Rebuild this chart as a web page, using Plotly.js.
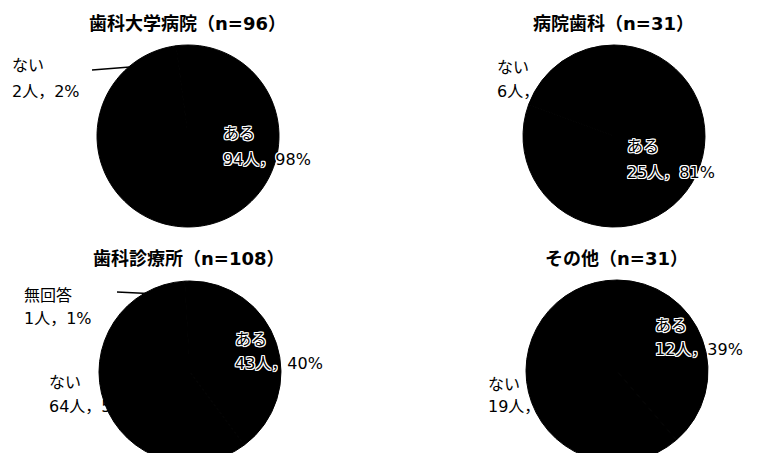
<!DOCTYPE html>
<html>
<head>
<meta charset="utf-8">
<script src="https://cdn.plot.ly/plotly-3.0.1.min.js"></script>
<style>
  html, body { margin: 0; padding: 0; background: #fff; overflow: hidden; }
  #chart { width: 761px; height: 470px; }
</style>
</head>
<body>
<div id="chart"></div>
<script>
// Respondent groups and answer categories
const groups = ['歯科大学病院', '病院歯科', '歯科診療所', 'その他'];
const answerLabels = ['ある', 'ない', '無回答'];

// Counts per group (ある, ない, 無回答)
const yesCounts = [94, 25, 43, 12];
const noCounts = [2, 6, 64, 19];
const noAnswerCounts = [0, 0, 1, 0];

const W = 761, H = 470;
const FONT = '"DejaVu Sans", "Noto Sans CJK JP", sans-serif';
const R = 91;

// Pie centre for each group in pixels
const centers = [[188, 136], [614, 136], [190, 372], [617, 371]];

// Label anchor points [left x, first line y, second line y] per group and category
const labelPos = [
  { 'ある': [221, 133, 159], 'ない': [10, 66, 91] },
  { 'ある': [625, 147, 173], 'ない': [495, 67, 91] },
  { 'ある': [233, 339, 363], 'ない': [47, 382, 406], '無回答': [22, 295, 318] },
  { 'ある': [653, 325, 349], 'ない': [486, 384, 406] }
];
const titleY = [24, 24, 258, 258];
const titleX = [187, 613, 188, 616];

const px = x => x / W;
const py = y => 1 - y / H;

const traces = [];
const annotations = [];
const white = '1px 0 0 #fff, -1px 0 0 #fff, 0 1px 0 #fff, 0 -1px 0 #fff, 1px 1px 0 #fff, -1px -1px 0 #fff, 1px -1px 0 #fff, -1px 1px 0 #fff';

groups.forEach((g, i) => {
  const vals = [yesCounts[i], noCounts[i], noAnswerCounts[i]];
  const total = vals.reduce((a, b) => a + b, 0);
  const [cx, cy] = centers[i];

  traces.push({
    type: 'pie',
    labels: answerLabels,
    values: vals,
    sort: false,
    direction: 'clockwise',
    rotation: 0,
    textinfo: 'none',
    hoverinfo: 'none',
    showlegend: false,
    marker: { colors: ['#000', '#000', '#000'], line: { color: '#000', width: 1 } },
    domain: { x: [px(cx - R), px(cx + R)], y: [py(cy + R), py(cy - R)] }
  });

  annotations.push({
    xref: 'paper', yref: 'paper', x: px(titleX[i]), y: py(titleY[i]),
    xanchor: 'center', yanchor: 'middle', showarrow: false,
    text: '<b>' + g + '（n=' + total + '）</b>',
    font: { family: FONT, size: 18, color: '#000' }
  });

  answerLabels.forEach((lab, k) => {
    const pos = labelPos[i][lab];
    if (!pos || vals[k] === 0) return;
    const pct = Math.round(vals[k] / total * 100);
    const font = { family: FONT, size: 16, color: '#000' };
    if (lab === 'ある') font.shadow = white;
    annotations.push({
      xref: 'paper', yref: 'paper', x: px(pos[0]), y: py(pos[1]),
      xanchor: 'left', yanchor: 'middle', showarrow: false,
      text: lab, font: font
    });
    annotations.push({
      xref: 'paper', yref: 'paper', x: px(pos[0]), y: py(pos[2]),
      xanchor: 'left', yanchor: 'middle', showarrow: false,
      text: vals[k] + '人，' + pct + '%', font: font
    });
  });
});

// Leader lines for the small slices
const shapes = [
  { type: 'line', xref: 'paper', yref: 'paper', x0: px(92), y0: py(70), x1: px(130), y1: py(67), line: { color: '#000', width: 1.5 } },
  { type: 'line', xref: 'paper', yref: 'paper', x0: px(117), y0: py(292), x1: px(158), y1: py(294), line: { color: '#000', width: 1.5 } }
];

const layout = {
  width: W, height: H,
  margin: { l: 0, r: 0, t: 0, b: 0 },
  paper_bgcolor: '#fff',
  plot_bgcolor: '#fff',
  showlegend: false,
  annotations: annotations,
  shapes: shapes
};

Plotly.newPlot('chart', traces, layout, { displayModeBar: false, staticPlot: true });
</script>
</body>
</html>
